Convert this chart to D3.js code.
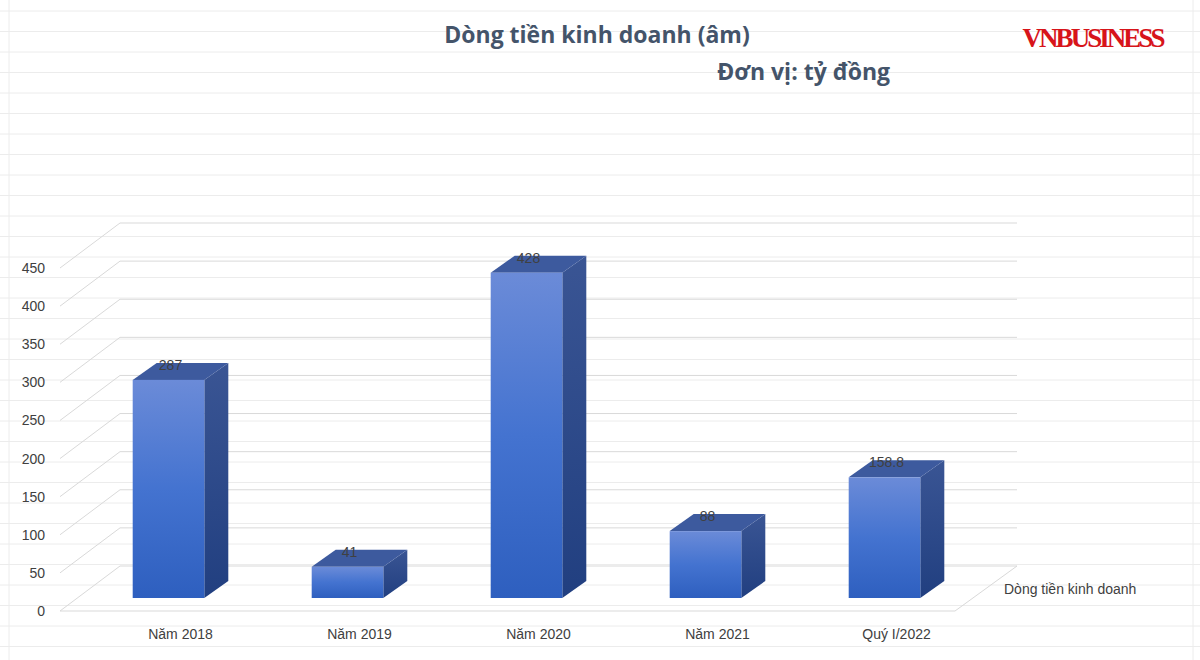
<!DOCTYPE html>
<html><head><meta charset="utf-8">
<script src="https://cdn.jsdelivr.net/npm/d3@7/dist/d3.min.js"></script>
<style>body{margin:0;background:#fff}</style></head>
<body><svg id="c" width="1200" height="660"></svg>
<script>
const categories=["Năm 2018","Năm 2019","Năm 2020","Năm 2021","Quý I/2022"];
const values=[287,41,428,88,158.8];
const valueLabels=["287","41","428","88","158.8"];
const ticks=[0,50,100,150,200,250,300,350,400,450];
const seriesName="Dòng tiền kinh doanh";

const svg=d3.select("#c");
// faint spreadsheet grid
const bg=svg.append("g").attr("stroke","#ececec").attr("stroke-width",1);
for(let y=11;y<660;y+=20.5) bg.append("line").attr("x1",0).attr("x2",1200).attr("y1",y).attr("y2",y);
[9,1193].forEach(x=>bg.append("line").attr("x1",x).attr("x2",x).attr("y1",0).attr("y2",660));

const yF=d3.scaleLinear().domain([0,450]).range([611,268]);
const DX=60,DY=-45;
const xF0=60,xF1=955;
const g=svg.append("g");
ticks.forEach(t=>{
  const yf=yF(t),yb=yf+DY;
  g.append("line").attr("x1",xF0).attr("y1",yf).attr("x2",xF0+DX).attr("y2",yb).attr("stroke","#d9d9d9");
  g.append("line").attr("x1",xF0+DX).attr("y1",yb).attr("x2",xF1+DX+2).attr("y2",yb).attr("stroke","#d9d9d9");
  g.append("text").attr("x",45).attr("y",yf+5).attr("text-anchor","end").attr("font-family","Liberation Sans, Arial").attr("font-size",14).attr("fill","#404040").text(t);
});
g.append("line").attr("x1",xF0).attr("y1",yF(0)).attr("x2",xF1).attr("y2",yF(0)).attr("stroke","#d9d9d9");
g.append("line").attr("x1",xF1).attr("y1",yF(0)).attr("x2",xF1+DX+2).attr("y2",yF(0)+DY).attr("stroke","#d9d9d9");

const x=d3.scaleBand().domain(categories).range([79,974]).paddingInner(0.6).paddingOuter(0.3);
const yB=d3.scaleLinear().domain([0,450]).range([598,256]);
const dx=24,dy=-17;
const defs=svg.append("defs");
const lg=defs.append("linearGradient").attr("id","gf").attr("x1",0).attr("y1",0).attr("x2",0).attr("y2",1);
lg.append("stop").attr("offset",0).attr("stop-color","#6b8bd8");
lg.append("stop").attr("offset",0.5).attr("stop-color","#4473d0");
lg.append("stop").attr("offset",1).attr("stop-color","#2e5fbf");
const ls=defs.append("linearGradient").attr("id","gs").attr("x1",0).attr("y1",0).attr("x2",0).attr("y2",1);
ls.append("stop").attr("offset",0).attr("stop-color","#3a5594");
ls.append("stop").attr("offset",1).attr("stop-color","#213f80");

categories.forEach((c,i)=>{
  const x0=x(c),w=x.bandwidth(),yt=yB(values[i]),yb=yB(0);
  const b=svg.append("g");
  b.append("path").attr("d",`M${x0+w},${yt}L${x0+w+dx},${yt+dy}L${x0+w+dx},${yb+dy}L${x0+w},${yb}Z`).attr("fill","url(#gs)");
  b.append("path").attr("d",`M${x0},${yt}L${x0+dx},${yt+dy}L${x0+w+dx},${yt+dy}L${x0+w},${yt}Z`).attr("fill","#3d5a9e");
  b.append("rect").attr("x",x0).attr("y",yt).attr("width",w).attr("height",yb-yt).attr("fill","url(#gf)");
  svg.append("text").attr("x",x0+w/2+2).attr("y",yt-10).attr("text-anchor","middle").attr("font-family","Liberation Sans, Arial").attr("font-size",14).attr("fill","#404040").text(valueLabels[i]);
  svg.append("text").attr("x",x0+w/2+12).attr("y",639).attr("text-anchor","middle").attr("font-family","Liberation Sans, Arial").attr("font-size",14).attr("fill","#404040").text(c);
});
svg.append("text").attr("x",1004).attr("y",594).attr("font-family","Liberation Sans, Arial").attr("font-size",14).attr("fill","#404040").text(seriesName);

svg.append("text").attr("x",597).attr("y",43).attr("text-anchor","middle").attr("font-family","Open Sans, Liberation Sans").attr("font-weight","bold").attr("font-size",23).attr("fill","#44546a").text("Dòng tiền kinh doanh (âm)");
svg.append("text").attr("x",890).attr("y",80).attr("text-anchor","end").attr("font-family","Open Sans, Liberation Sans").attr("font-weight","bold").attr("font-size",23).attr("fill","#44546a").text("Đơn vị: tỷ đồng");
svg.append("text").attr("x",1094).attr("y",47).attr("text-anchor","middle").attr("font-family","Liberation Serif, DejaVu Serif").attr("font-weight","bold").attr("font-size",27).attr("textLength",143).attr("fill","#d7141a").text("VNBUSINESS");
</script></body></html>
